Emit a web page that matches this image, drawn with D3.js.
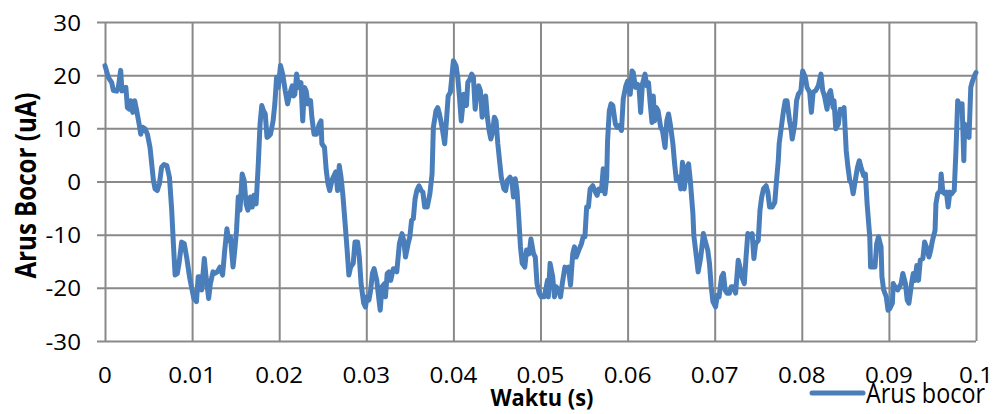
<!DOCTYPE html>
<html>
<head>
<meta charset="utf-8">
<script src="https://cdn.jsdelivr.net/npm/d3@7"></script>
<style>
  html, body { margin: 0; padding: 0; background: #ffffff; }
  svg { display: block; }
  text { font-family: "Open Sans", "Noto Sans", sans-serif; fill: #000; }
</style>
</head>
<body>
<svg id="chart" width="997" height="414"></svg>
<script>
// Leakage current measurement: time in milliseconds, current in microampere
const waktuMs = [
  0, 0.38, 0.77, 0.96, 1.34, 1.53, 1.8, 1.95, 2.1, 2.4, 2.57, 2.8, 2.95, 3.18, 3.41, 3.64, 3.95, 4.1, 4.33, 4.6,
  4.87, 5.17, 5.56, 5.75, 6.0, 6.25, 6.5, 6.78, 7.1, 7.4, 7.66, 7.85, 8.05, 8.3, 8.5, 8.8, 9.1, 9.4, 9.7, 10.0,
  10.2, 10.5, 10.7, 10.9, 11.1, 11.4, 11.6, 11.9, 12.1, 12.4, 12.6, 12.9, 13.2, 13.5, 13.75, 14.0, 14.2, 14.4, 14.7, 14.9,
  15.1, 15.3, 15.5, 15.75, 15.98, 16.2, 16.4, 16.7, 16.9, 17.1, 17.35, 17.6, 17.8, 18.0, 18.2, 18.4, 18.6, 18.85, 19.0, 19.3,
  19.5, 19.7, 19.9, 20.15, 20.4, 20.7, 20.96, 21.2, 21.5, 21.65, 21.8, 22.0, 22.2, 22.5, 22.7, 22.9, 23.1, 23.3, 23.6, 23.75,
  24.0, 24.3, 24.6, 24.8, 24.9, 25.2, 25.4, 25.6, 25.8, 26.05, 26.2, 26.5, 26.7, 26.9, 27.1, 27.3, 27.6, 27.8, 28.0, 28.2,
  28.5, 28.7, 29.0, 29.2, 29.4, 29.7, 29.9, 30.1, 30.3, 30.5, 30.7, 30.9, 31.2, 31.5, 31.6, 31.8, 32.1, 32.2, 32.4, 32.6,
  32.8, 33.1, 33.3, 33.5, 33.8, 34.1, 34.3, 34.5, 34.8, 35.0, 35.2, 35.4, 35.6, 35.8, 36.05, 36.3, 36.5, 36.7, 37.0, 37.3,
  37.55, 37.7, 38.0, 38.2, 38.4, 38.7, 39.0, 39.2, 39.4, 39.65, 39.8, 40.0, 40.3, 40.5, 40.7, 40.9, 41.2, 41.5, 41.65, 41.9,
  42.1, 42.3, 42.5, 42.7, 42.9, 43.1, 43.3, 43.5, 43.7, 43.9, 44.1, 44.3, 44.5, 44.7, 44.9, 45.1, 45.3, 45.5, 45.8, 46.0,
  46.2, 46.5, 46.7, 46.9, 47.1, 47.3, 47.5, 47.7, 47.9, 48.2, 48.4, 48.7, 48.9, 49.2, 49.4, 49.6, 49.85, 50.1, 50.4, 50.6,
  50.8, 50.9, 51.1, 51.4, 51.6, 51.8, 52.1, 52.3, 52.5, 52.8, 53.0, 53.2, 53.45, 53.7, 53.9, 54.1, 54.4, 54.7, 54.9, 55.1,
  55.3, 55.5, 55.7, 56.0, 56.3, 56.5, 56.7, 57.0, 57.2, 57.4, 57.6, 57.7, 57.9, 58.1, 58.3, 58.6, 58.8, 59.0, 59.3, 59.5,
  59.8, 60.0, 60.3, 60.5, 60.65, 60.9, 61.1, 61.3, 61.5, 61.7, 62.0, 62.2, 62.4, 62.6, 62.8, 62.95, 63.1, 63.3, 63.5, 63.8,
  64.0, 64.3, 64.5, 64.7, 64.9, 65.2, 65.4, 65.6, 65.9, 66.1, 66.3, 66.5, 66.8, 67.0, 67.2, 67.5, 67.6, 67.9, 68.1, 68.4,
  68.7, 68.9, 69.2, 69.4, 69.6, 69.8, 70.1, 70.3, 70.5, 70.8, 71.0, 71.2, 71.4, 71.7, 71.9, 72.2, 72.4, 72.7, 72.9, 73.1,
  73.4, 73.6, 73.8, 74.0, 74.3, 74.5, 74.7, 75.0, 75.2, 75.4, 75.6, 75.9, 76.1, 76.3, 76.6, 76.9, 77.1, 77.3, 77.4, 77.6,
  77.9, 78.1, 78.3, 78.6, 78.8, 78.9, 79.2, 79.4, 79.6, 79.9, 80.1, 80.4, 80.6, 80.9, 81.1, 81.3, 81.6, 81.9, 82.2, 82.4,
  82.6, 82.9, 83.1, 83.3, 83.6, 83.7, 83.9, 84.2, 84.4, 84.6, 84.85, 85.1, 85.3, 85.5, 85.7, 85.9, 86.2, 86.4, 86.6, 86.8,
  87.1, 87.3, 87.5, 87.8, 87.9, 88.1, 88.4, 88.6, 88.8, 89.1, 89.2, 89.4, 89.7, 89.9, 90.1, 90.4, 90.5, 90.7, 91.0, 91.2,
  91.4, 91.6, 91.9, 92.1, 92.3, 92.6, 92.8, 93.0, 93.2, 93.4, 93.6, 93.9, 94.1, 94.3, 94.6, 94.8, 95.0, 95.3, 95.4, 95.6,
  95.9, 96.0, 96.2, 96.4, 96.6, 96.8, 97.0, 97.2, 97.5, 97.7, 97.9, 98.2, 98.4, 98.6, 98.7, 98.9, 99.2, 99.4, 99.6, 99.9,
  100
];
const arusBocor = [
  21.8, 19.6, 18.6, 17.1, 17.0, 17.7, 20.9, 17.0, 17.6, 17.7, 13.9, 13.6, 15.2, 13.0, 15.2, 13.3, 10.5, 8.9, 10.2, 9.9,
  8.9, 6.4, 0.2, -1.4, -1.7, -0.4, 2.7, 3.2, 3.0, 0.8, -5.4, -11.7, -17.6, -17.3, -15.4, -11.4, -11.7, -14.5, -17.9, -20.4,
  -22.0, -22.6, -17.9, -17.9, -20.4, -14.5, -17.9, -22.0, -19.2, -17.0, -17.3, -17.0, -16.1, -17.6, -12.9, -8.9, -11.1, -10.4, -16.1, -12.9,
  -9.2, -2.9, -5.4, 1.4, 0.2, -4.2, -5.4, -2.9, -4.8, -2.6, -4.2, 3.3, 10.8, 14.3, 13.3, 12.7, 8.3, 8.6, 8.9, 11.4,
  14.6, 19.6, 17.7, 21.8, 20.2, 17.0, 14.6, 16.4, 18.0, 16.1, 16.4, 20.2, 17.7, 18.6, 11.4, 17.7, 17.0, 14.6, 15.2, 12.1,
  8.9, 8.9, 10.8, 11.4, 7.1, 6.4, 2.1, -0.4, -1.7, 0.2, 0.8, 1.8, -1.7, 3.0, 0.8, -2.3, -8.6, -12.9, -17.6, -16.1,
  -15.4, -11.4, -11.4, -14.2, -19.2, -22.9, -23.6, -21.7, -22.3, -20.4, -17.3, -16.4, -18.6, -22.9, -24.2, -19.8, -19.2, -21.7, -17.3, -17.0,
  -18.6, -16.4, -16.4, -17.0, -11.7, -9.8, -11.1, -14.2, -11.7, -10.4, -7.3, -7.0, -3.3, -1.7, -0.8, -1.7, -2.0, -4.8, -4.8, -2.3,
  1.4, 10.2, 13.3, 13.9, 12.7, 10.2, 7.1, 11.4, 16.1, 16.8, 19.3, 22.7, 21.8, 19.6, 15.8, 11.4, 16.4, 14.3, 18.6, 19.3,
  20.2, 19.6, 13.6, 17.0, 18.0, 17.1, 12.1, 13.9, 16.1, 12.1, 9.6, 8.0, 9.3, 12.1, 11.4, 7.1, 3.9, 0.8, -1.4, -1.7,
  0.2, 0.8, 0.2, -2.9, 0.5, -1.7, -6.7, -12.3, -15.4, -16.1, -12.9, -13.6, -10.8, -13.6, -14.2, -19.2, -21.0, -21.7, -21.7, -20.4,
  -18.6, -21.7, -15.4, -17.9, -21.7, -19.8, -20.4, -21.7, -19.2, -16.1, -16.4, -16.1, -19.5, -13.6, -12.3, -14.2, -12.9, -11.7, -10.4, -10.4,
  -4.8, -4.8, -1.4, -0.8, -2.0, -2.6, -1.4, -1.7, 2.4, -2.3, 0.8, 7.7, 13.3, 14.6, 14.3, 10.8, 10.2, 10.5, 9.6, 15.5,
  18.0, 18.9, 16.4, 20.8, 20.5, 17.7, 18.3, 18.0, 13.0, 18.3, 20.2, 18.0, 18.6, 14.6, 11.1, 16.1, 11.4, 13.9, 13.3, 10.2,
  9.6, 6.4, 11.4, 12.7, 10.8, 7.1, 3.3, 0.2, 0.8, -1.4, 3.6, -1.4, 2.7, 3.3, 0.2, -6.1, -10.1, -14.2, -17.0, -14.2,
  -9.8, -11.1, -12.9, -15.4, -19.8, -22.6, -23.6, -21.4, -21.7, -17.9, -17.3, -20.4, -21.0, -21.0, -19.8, -19.8, -21.0, -14.8, -16.1, -17.9,
  -19.2, -14.2, -9.8, -10.4, -9.8, -14.5, -11.7, -11.1, -5.4, -2.9, -1.4, -0.8, -2.0, -4.8, -4.8, -3.9, 0.2, 3.9, 7.1, 9.6,
  13.3, 15.2, 15.2, 11.4, 9.6, 8.0, 10.8, 15.2, 16.4, 17.1, 20.8, 19.6, 17.7, 16.8, 13.0, 16.8, 17.1, 18.0, 20.2, 17.1,
  16.1, 13.6, 16.4, 17.1, 13.9, 15.2, 9.9, 10.8, 13.6, 13.3, 13.9, 5.8, 2.7, 0.2, -0.4, -2.3, 0.8, 2.7, 3.9, 2.7,
  1.1, 1.4, -4.2, -10.4, -16.1, -16.1, -16.1, -11.7, -10.4, -12.3, -17.9, -20.4, -21.7, -24.2, -23.9, -22.9, -19.2, -19.8, -20.4, -19.8,
  -19.2, -17.3, -19.2, -22.3, -22.9, -19.2, -17.3, -18.6, -15.8, -18.6, -14.8, -14.5, -11.4, -12.3, -14.2, -12.9, -11.1, -9.2, -4.2, -2.3,
  -1.7, 1.4, -2.0, -2.3, -2.0, -4.8, -2.0, -2.3, -1.7, 5.8, 15.2, 13.9, 14.6, 3.9, 10.8, 8.9, 8.3, 17.7, 18.9, 20.2,
  20.5
];

const seriesName = "Arus bocor";
const xTitle = "Waktu (s)";
const yTitle = "Arus Bocor (uA)";
const xTickValuesMs = [0, 10, 20, 30, 40, 50, 60, 70, 80, 90, 100];
const xTickLabels = ["0", "0.01", "0.02", "0.03", "0.04", "0.05", "0.06", "0.07", "0.08", "0.09", "0.1"];
const yTickValues = [-30, -20, -10, 0, 10, 20, 30];
const yTickLabels = ["-30", "-20", "-10", "0", "10", "20", "30"];

const W = 997, H = 414;
const plot = { left: 105, right: 976, top: 22, bottom: 341 };
const gridColor = "#898989";
const lineColor = "#4a7ebb";

const svg = d3.select("#chart");
svg.append("rect").attr("width", W).attr("height", H).attr("fill", "#ffffff");

const x = d3.scaleLinear().domain([0, 100]).range([plot.left, plot.right]);
const y = d3.scaleLinear().domain([-30, 30]).range([plot.bottom, plot.top]);

// Stretch a text element horizontally along its baseline by factor sx
function stretch(sel, sx) {
  sel.each(function () {
    const len = this.getComputedTextLength();
    d3.select(this).attr("textLength", len * sx).attr("lengthAdjust", "spacingAndGlyphs");
  });
}

// Horizontal grid lines with short tick stubs to the left of the value axis
const yAxis = d3.axisLeft(y)
  .tickValues(yTickValues)
  .tickSize(-(plot.right - plot.left) - 8)
  .tickFormat((d, i) => yTickLabels[i]);
const gy = svg.append("g").attr("transform", `translate(${plot.right},0)`).call(yAxis);
gy.select(".domain").remove();
gy.selectAll(".tick line")
  .attr("x1", 0).attr("x2", -(plot.right - plot.left) - 8)
  .attr("stroke", gridColor).attr("stroke-width", 2);
gy.selectAll(".tick text").remove();

// Vertical grid lines
const xAxis = d3.axisBottom(x)
  .tickValues(xTickValuesMs)
  .tickSize(-(plot.bottom - plot.top))
  .tickFormat((d, i) => xTickLabels[i]);
const gx = svg.append("g").attr("transform", `translate(0,${plot.bottom})`).call(xAxis);
gx.select(".domain").remove();
gx.selectAll(".tick line").attr("stroke", gridColor).attr("stroke-width", 2);
gx.selectAll(".tick text").remove();

// Value axis labels
const yLab = svg.append("g").selectAll("text")
  .data(yTickValues)
  .join("text")
  .attr("x", 81)
  .attr("y", d => y(d) + 8.5)
  .attr("text-anchor", "end")
  .attr("font-size", 21)
  .text((d, i) => yTickLabels[i]);
stretch(yLab, 1.15);

// Time axis labels
const xLab = svg.append("g").selectAll("text")
  .data(xTickValuesMs)
  .join("text")
  .attr("x", d => x(d))
  .attr("y", 383)
  .attr("text-anchor", "middle")
  .attr("font-size", 21)
  .text((d, i) => xTickLabels[i]);
stretch(xLab, 1.15);

// Current trace
const line = d3.line()
  .x((d, i) => x(waktuMs[i]))
  .y(d => y(d));
svg.append("path")
  .datum(arusBocor)
  .attr("d", line)
  .attr("fill", "none")
  .attr("stroke", lineColor)
  .attr("stroke-width", 5)
  .attr("stroke-linejoin", "round")
  .attr("stroke-linecap", "round");

// Axis titles
svg.append("text")
  .attr("x", 542)
  .attr("y", 406)
  .attr("text-anchor", "middle")
  .attr("font-size", 23)
  .attr("font-weight", "bold")
  .attr("textLength", 103)
  .attr("lengthAdjust", "spacingAndGlyphs")
  .text(xTitle);

svg.append("text")
  .attr("transform", "translate(36,185.5) rotate(-90)")
  .attr("x", 0)
  .attr("y", 0)
  .attr("text-anchor", "middle")
  .attr("font-size", 29)
  .attr("font-weight", "bold")
  .attr("textLength", 186)
  .attr("lengthAdjust", "spacingAndGlyphs")
  .text(yTitle);

// Legend
const legend = svg.append("g");
legend.append("line")
  .attr("x1", 812).attr("x2", 863)
  .attr("y1", 393).attr("y2", 393)
  .attr("stroke", lineColor)
  .attr("stroke-width", 5)
  .attr("stroke-linecap", "round");
legend.append("text")
  .attr("x", 866)
  .attr("y", 403)
  .attr("font-size", 28)
  .attr("textLength", 119)
  .attr("lengthAdjust", "spacingAndGlyphs")
  .text(seriesName);
</script>
</body>
</html>
